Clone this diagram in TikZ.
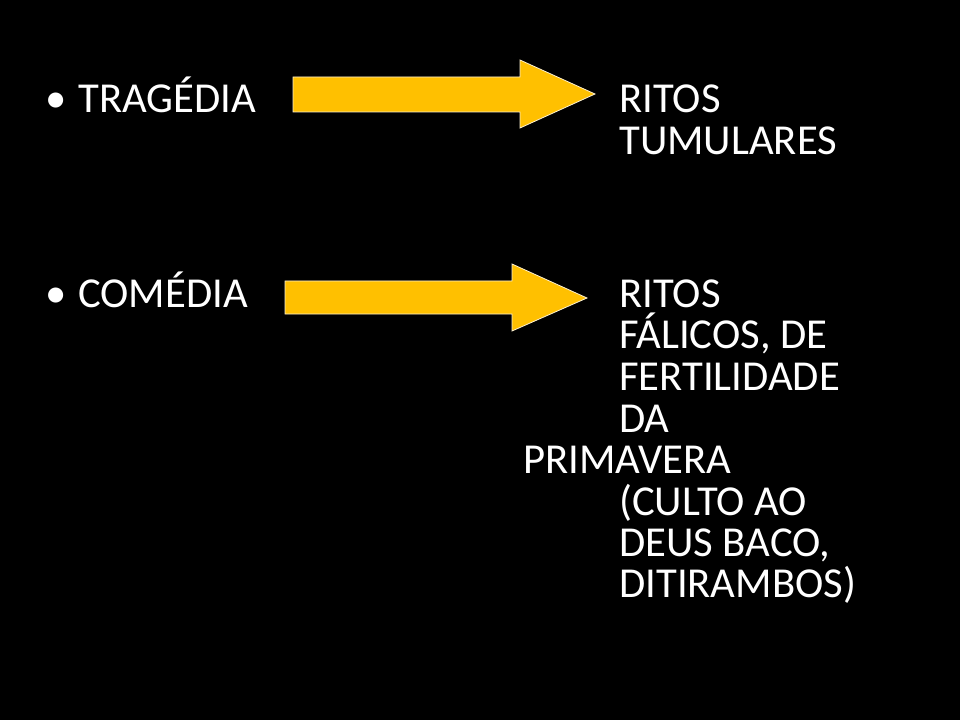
\documentclass[tikz,border=0pt]{standalone}
\usepackage{fontspec}
\setmainfont{Carlito}
\usepackage{tikz}

\definecolor{slideyellow}{HTML}{FFC000}
\definecolor{rimcream}{HTML}{FBEFCF}

\tikzset{
  txt/.style={text=white, anchor=base west, inner sep=0pt, font=\fontsize{32}{38}\selectfont},
  blockarrow/.style={fill=slideyellow, draw=rimcream, line width=0.6pt, line join=miter}
}

\begin{document}
\begin{tikzpicture}[x=0.75pt, y=-0.75pt]
      \fill[black] (0,0) rectangle (960,720);
      \useasboundingbox (0,0) rectangle (960,720);

      % first row
      \node[txt] (b1) at (45, 113) {•};
      \node[txt] (trag) at (78, 113) {TRAGÉDIA};
      \draw[blockarrow] (293,77) -- (520,77) -- (520,60) -- (595,94)
            -- (520,128) -- (520,112) -- (293,112) -- cycle;
      \node[txt] (r1) at (619, 113) {RITOS};
      \node[txt] (r2) at (619, 155) {TUMULARES};

      % second row
      \node[txt] (b2) at (45, 307) {•};
      \node[txt] (com) at (78, 307) {COMÉDIA};
      \draw[blockarrow] (285,281) -- (512,281) -- (512,264) -- (587,298)
            -- (512,331) -- (512,314) -- (285,314) -- cycle;
      \node[txt] (c1) at (619, 307) {RITOS};
      \node[txt] (c2) at (619, 349) {FÁLICOS, DE};
      \node[txt] (c3) at (619, 390) {FERTILIDADE};
      \node[txt] (c4) at (619, 432) {DA};
      \node[txt] (c5) at (523, 473) {PRIMAVERA};
      \node[txt] (c6) at (619, 515) {(CULTO AO};
      \node[txt] (c7) at (619, 556) {DEUS BACO,};
      \node[txt] (c8) at (619, 597) {DITIRAMBOS)};
\end{tikzpicture}
\end{document}
